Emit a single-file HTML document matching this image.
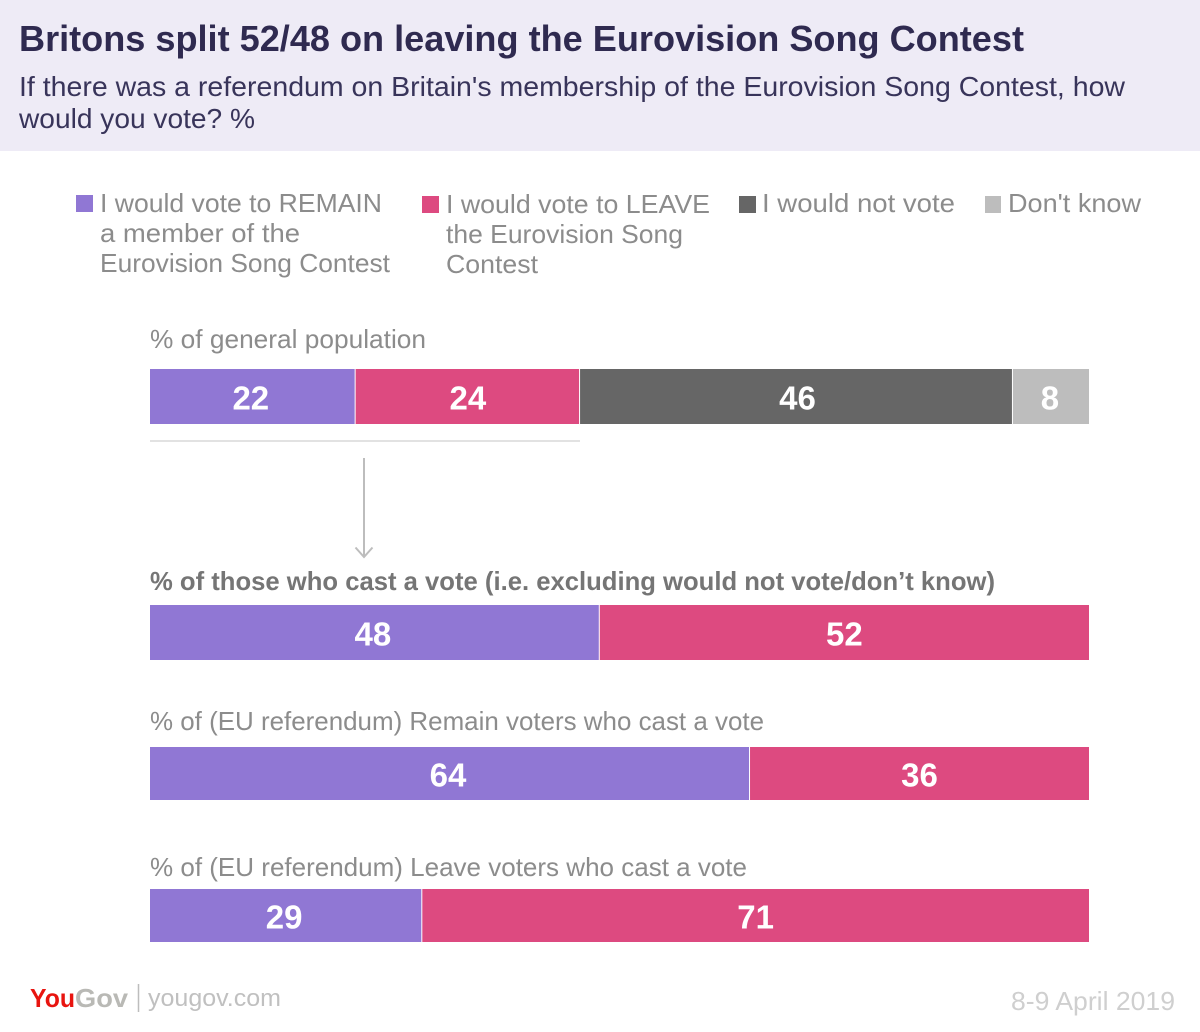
<!DOCTYPE html>
<html lang="en">
<head>
<meta charset="utf-8">
<title>Britons split 52/48 on leaving the Eurovision Song Contest</title>
<style>
html,body{margin:0;padding:0;background:#fff;width:1200px;height:1032px;overflow:hidden}
svg{display:block}
text{font-family:"Liberation Sans",sans-serif}
</style>
</head>
<body>
<svg id="chart" xmlns="http://www.w3.org/2000/svg" width="1200" height="1032" viewBox="0 0 1200 1032">
  <rect x="0" y="0" width="1200" height="151" fill="#eeebf6"/>
  <text x="19" y="51" font-size="36" font-weight="700" fill="#2f2a50" textLength="1005" lengthAdjust="spacingAndGlyphs">Britons split 52/48 on leaving the Eurovision Song Contest</text>
  <text x="19" y="96" font-size="28" fill="#38345a" textLength="1106" lengthAdjust="spacingAndGlyphs">If there was a referendum on Britain's membership of the Eurovision Song Contest, how</text>
  <text x="19" y="128" font-size="28" fill="#38345a" textLength="236" lengthAdjust="spacingAndGlyphs">would you vote? %</text>

  <g font-size="26" fill="#8c8c8c">
    <g>
      <rect x="76" y="195" width="17" height="17" fill="#9077d4"/>
      <text x="100" y="212" textLength="282" lengthAdjust="spacingAndGlyphs">I would vote to REMAIN</text>
      <text x="100" y="242" textLength="200" lengthAdjust="spacingAndGlyphs">a member of the</text>
      <text x="100" y="272" textLength="290" lengthAdjust="spacingAndGlyphs">Eurovision Song Contest</text>
    </g>
    <g>
      <rect x="422" y="196" width="17" height="17" fill="#dd4a80"/>
      <text x="446" y="213" textLength="264" lengthAdjust="spacingAndGlyphs">I would vote to LEAVE</text>
      <text x="446" y="243" textLength="237" lengthAdjust="spacingAndGlyphs">the Eurovision Song</text>
      <text x="446" y="273" textLength="92" lengthAdjust="spacingAndGlyphs">Contest</text>
    </g>
    <g>
      <rect x="739" y="196" width="17" height="17" fill="#666666"/>
      <text x="762" y="212" textLength="193" lengthAdjust="spacingAndGlyphs">I would not vote</text>
    </g>
    <g>
      <rect x="985" y="196" width="16" height="17" fill="#bdbdbd"/>
      <text x="1008" y="212" textLength="133" lengthAdjust="spacingAndGlyphs">Don't know</text>
    </g>
  </g>

  <rect x="150" y="440.500" width="430" height="1" fill="#c4c4c4"/>
  <g fill="none" stroke="#bdbdbd" stroke-width="2">
    <line x1="364" y1="458" x2="364" y2="557"/>
    <polyline points="355.500,547.500 364,557 372.500,547.500"/>
  </g>

  <g id="bars"></g>

  <g>
    <text x="30" y="1007" font-size="26" font-weight="700" fill="#e8140f" textLength="45" lengthAdjust="spacingAndGlyphs">You</text>
    <text x="75" y="1007" font-size="26" font-weight="700" fill="#b9b9b5" textLength="53" lengthAdjust="spacingAndGlyphs">Gov</text>
    <line x1="138.500" y1="984" x2="138.500" y2="1012" stroke="#bdbdbd" stroke-width="1.5"/>
  </g>
  <text x="148" y="1006" font-size="24" fill="#c0c0c0" textLength="133" lengthAdjust="spacingAndGlyphs">yougov.com</text>
  <text x="1011" y="1010" font-size="26" fill="#cfcfcf" textLength="164" lengthAdjust="spacingAndGlyphs">8-9 April 2019</text>
</svg>

<script>
const seriesColors = ['#9077d4', '#dd4a80', '#666666', '#bdbdbd'];
const generalPopulation = [21.9, 23.9, 46.1, 8.1];
const allVoters = [47.9, 52.1];
const euRemainVoters = [63.9, 36.1];
const euLeaveVoters = [29, 71];
const rowTitles = [
  '% of general population',
  '% of those who cast a vote (i.e. excluding would not vote/don\u2019t know)',
  '% of (EU referendum) Remain voters who cast a vote',
  '% of (EU referendum) Leave voters who cast a vote'
];
const rowSeries = [generalPopulation, allVoters, euRemainVoters, euLeaveVoters];
const rowNames = ['general-population', 'all-voters', 'eu-remain-voters', 'eu-leave-voters'];
const segmentNames = ['remain', 'leave', 'would-not-vote', 'dont-know'];

const rowLayout = [
  { top: 369, height: 55, titleY: 348, titleW: 276, bold: false },
  { top: 605, height: 55, titleY: 590, titleW: 845, bold: true },
  { top: 747, height: 53, titleY: 730, titleW: 614, bold: false },
  { top: 889, height: 53, titleY: 876, titleW: 597, bold: false }
];
const labelNudge = [-2, 0, 1, -1];

const NS = 'http://www.w3.org/2000/svg';
const plotLeft = 150;
const plotWidth = 939;
const xScale = function (v) { return plotLeft + v / 100 * plotWidth; };
const barsGroup = document.getElementById('bars');

rowSeries.forEach(function (values, r) {
  const layout = rowLayout[r];

  const row = document.createElementNS(NS, 'g');
  
  
  barsGroup.appendChild(row);

  const title = document.createElementNS(NS, 'text');
  
  
  title.setAttribute('x', plotLeft);
  title.setAttribute('y', layout.titleY);
  title.setAttribute('font-size', '26');
  title.setAttribute('fill', layout.bold ? '#757575' : '#8c8c8c');
  title.setAttribute('font-weight', layout.bold ? '700' : '400');
  title.setAttribute('textLength', layout.titleW);
  title.setAttribute('lengthAdjust', 'spacingAndGlyphs');
  title.textContent = rowTitles[r];
  row.appendChild(title);

  let cumulative = 0;
  values.forEach(function (value, i) {
    const x0 = xScale(cumulative);
    const x1 = xScale(cumulative + value);
    cumulative += value;
    const isLast = i === values.length - 1;

    const rect = document.createElementNS(NS, 'rect');
    
    
    rect.setAttribute('x', x0);
    rect.setAttribute('y', layout.top);
    rect.setAttribute('width', Math.max(0, x1 - x0 - (isLast ? 0 : 1)));
    rect.setAttribute('height', layout.height);
    rect.setAttribute('fill', seriesColors[i]);
    row.appendChild(rect);

    const label = document.createElementNS(NS, 'text');
    
    
    label.setAttribute('x', (x0 + x1) / 2 + labelNudge[i]);
    label.setAttribute('y', layout.top + layout.height / 2 + 13);
    label.setAttribute('text-anchor', 'middle');
    label.setAttribute('font-size', '33');
    label.setAttribute('font-weight', '700');
    label.setAttribute('fill', '#ffffff');
    label.textContent = Math.round(value);
    row.appendChild(label);
  });
});
</script>
</body>
</html>
